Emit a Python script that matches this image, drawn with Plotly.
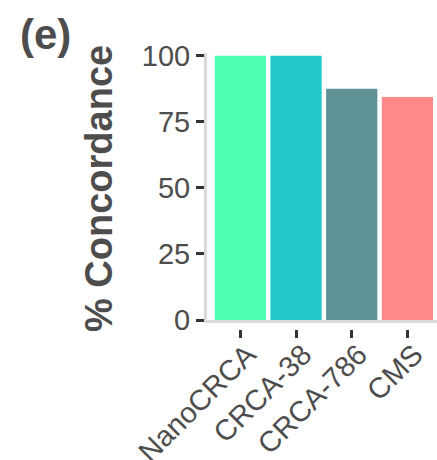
import plotly.graph_objects as go

categories = ["NanoCRCA", "CRCA-38", "CRCA-786", "CMS"]
concordance = [100, 100, 87.5, 84.4]
bar_colors = ["#4DFFB3", "#22C9CC", "#5F9398", "#FF8888"]
y_ticks = [0, 25, 50, 75, 100]

FONT = "Liberation Sans"
TXT = "#4D4D4D"
TICKC = "#333333"
LINEC = "#D9D9D9"

fig = go.Figure()
fig.add_trace(go.Bar(x=categories, y=concordance, marker=dict(color=bar_colors, line=dict(width=0)),
                     width=0.92, hoverinfo="skip", showlegend=False))
# invisible trace that carries the offset tick axis
fig.add_trace(go.Scatter(x=categories, y=concordance, xaxis="x2", mode="markers",
                         marker=dict(opacity=0), hoverinfo="skip", showlegend=False))

W, H = 437, 460
L, R, T, B = 207, 0, 53, 100
plot_h = H - T - B
ybot = (H - B - 320) / plot_h
xrng = [-0.6, (W - L) / 55.67 - 0.6]

fig.update_layout(
    width=W, height=H,
    margin=dict(l=L, r=R, t=T, b=B, autoexpand=False),
    paper_bgcolor="white", plot_bgcolor="white",
    bargap=0.08,
    font=dict(family=FONT, color=TXT),
    xaxis=dict(type="category", categoryorder="array", categoryarray=categories,
               range=xrng, showline=True, linecolor=LINEC, linewidth=3,
               showgrid=False, zeroline=False, ticks="", showticklabels=False,
               anchor="y", automargin=False),
    xaxis2=dict(type="category", categoryorder="array", categoryarray=categories,
                range=xrng, overlaying="x", anchor="free",
                position=(H - B - 329) / plot_h, side="bottom",
                showline=False, showgrid=False, zeroline=False,
                ticks="outside", ticklen=8, tickwidth=3, tickcolor=TICKC,
                tickangle=-45, automargin=False,
                ticklabelstandoff=-12, ticklabelshift=7,
                tickfont=dict(size=29, color=TXT, family=FONT)),
    yaxis=dict(domain=[ybot, 1], range=[0, 101], tickvals=y_ticks,
               showline=True, linecolor=LINEC, linewidth=3,
               showgrid=False, zeroline=False, automargin=False,
               ticks="outside", ticklen=8, tickwidth=3, tickcolor=TICKC,
               tickfont=dict(size=29, color=TXT, family=FONT)),
    annotations=[
        dict(text="<b>% Concordance</b>", textangle=-90, xref="paper", yref="paper",
             x=(99 - L) / (W - L - R), y=(H - B - 189) / plot_h,
             xanchor="center", yanchor="middle", showarrow=False,
             font=dict(size=38, color=TXT, family=FONT)),
        dict(text="<b>(e)</b>", xref="paper", yref="paper",
             x=(45 - L) / (W - L - R), y=(H - B - 35) / plot_h,
             xanchor="center", yanchor="middle", showarrow=False,
             font=dict(size=42, color=TXT, family=FONT)),
    ],
)

fig.write_html("out.html", config={"displayModeBar": False},
               post_script="document.body.style.margin='0';document.body.style.overflow='hidden';")
